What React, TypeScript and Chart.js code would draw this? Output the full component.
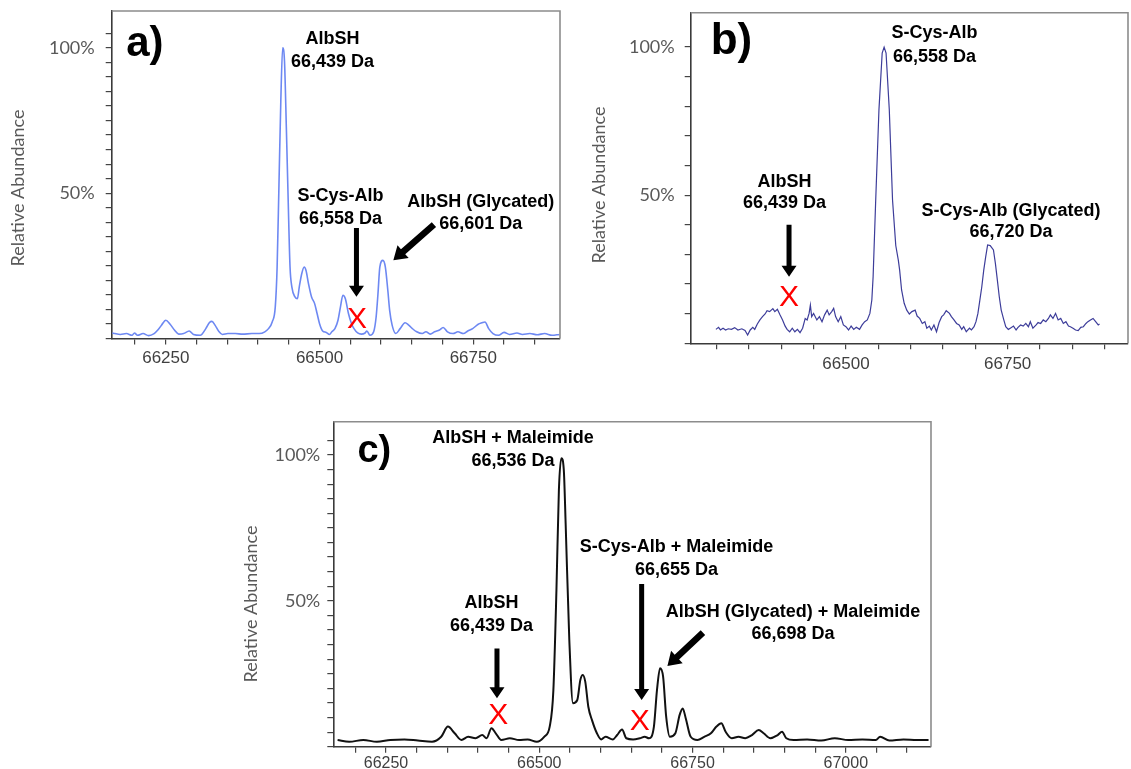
import React, { useEffect, useRef } from 'react';
import { Chart, registerables } from 'chart.js';

Chart.register(...registerables);

// ---------- Panel a : spectrum (mass in Da, relative abundance in %) ----------
const massA = [66163,66167,66176,66186,66195,66199,66204,66213,66222,66231,66237,66243,66250,66257,66264,66271,66279,66288,66295,66306,66315,66321,66325,66330,66336,66342,66351,66363,66375,66390,66402,66411,66417,66423,66428,66431,66434,66437,66440,66443,66446,66449,66452,66455,66460,66464,66467,66471,66475,66478,66482,66487,66492,66496,66500,66505,66511,66516,66520,66525,66530,66534,66538,66542,66547,66552,66556,66562,66568,66574,66577,66582,66588,66592,66595,66598,66603,66607,66611,66614,66618,66624,66631,66639,66645,66651,66658,66667,66673,66680,66687,66695,66701,66708,66717,66725,66734,66741,66749,66758,66764,66769,66775,66782,66791,66800,66809,66821,66830,66842,66854,66866,66878,66890];
const abundA = [1.9,1.7,1.4,1.7,1.1,1.9,1.1,1.7,1.0,1.7,2.9,4.6,6.3,4.9,2.9,1.5,1.7,2.6,1.4,1.1,3.4,5.5,5.9,4.6,2.5,1.4,1.7,1.7,1.5,1.7,1.7,2.3,3.4,5.7,10.9,24.6,53,81.7,100,95.4,72.6,47.4,24.6,17.7,14.3,13.7,17.7,22.3,24.6,23.4,18.9,14.3,12,8.6,5.1,2.6,2.1,1.4,2.3,3.4,6.3,10.9,14.9,13.7,8.6,5.1,3.4,1.9,1.5,1.9,2.6,1.1,2.3,7.4,15.4,24.6,26.9,24.6,16.6,9.7,4.6,1.7,3.4,5.4,4.6,3.4,2.3,1.7,2.3,1.5,2.3,2.9,3.8,2.3,1.7,2.3,1.7,2.6,3.4,4.9,5.4,5.7,3.4,1.7,1.1,2.1,1.4,1.9,1.4,1.7,1.3,1.7,1.1,1.4];

// ---------- Panel b ----------
const massB = [66299,66303,66306,66310,66314,66318,66323,66328,66333,66339,66344,66348,66352,66356,66359,66363,66367,66371,66375,66378,66382,66387,66390,66394,66398,66402,66406,66409,66413,66417,66421,66425,66429,66433,66437,66440,66443,66445,66447,66450,66455,66459,66463,66467,66471,66474,66478,66481,66484,66488,66492,66496,66500,66504,66508,66512,66516,66521,66525,66529,66533,66537,66540,66542,66546,66551,66556,66559,66562,66567,66572,66577,66581,66583,66586,66590,66594,66598,66602,66607,66610,66614,66618,66622,66625,66629,66632,66636,66640,66644,66648,66651,66655,66660,66663,66667,66671,66675,66679,66682,66686,66691,66694,66698,66701,66704,66707,66710,66713,66716,66719,66723,66728,66731,66734,66737,66740,66744,66747,66751,66754,66759,66763,66766,66770,66774,66778,66782,66785,66789,66794,66797,66801,66805,66809,66813,66816,66820,66824,66828,66832,66836,66840,66844,66847,66851,66855,66859,66863,66867,66871,66874,66878,66882,66886,66890,66892];
const abundB = [4.7,5.4,4.5,5.1,4.5,4.9,4.7,5.3,4.5,4.9,4.3,2.8,4.5,5.4,4.7,6.5,7.9,9.0,9.9,11.0,10.7,11.7,10.7,11.5,9.6,7.9,5.8,4.7,3.9,5.1,3.9,4.7,3.6,5.1,8.4,7.9,10.1,12.9,9.0,10.1,7.9,9.0,7.3,9.6,11.2,9.6,10.7,11.8,9.0,7.3,9.0,6.2,5.6,4.5,5.8,4.7,5.4,4.7,6.2,7.3,7.9,10.1,14.6,22.5,48.4,78.8,98,100,98,78.8,48.4,33,28,24.7,18,13.5,11.2,9.9,10.7,11.2,9.2,8.4,6.7,7.3,5.1,5.8,4.5,6.2,3.9,7.0,9.0,9.6,11.0,10.1,9.0,7.9,6.7,6.2,4.7,5.6,3.9,5.1,4.5,5.6,7.3,10.1,14.6,19.1,24.7,29.2,33.2,33.0,31.5,27,21.4,15.7,11.2,7.9,5.6,4.7,5.1,5.8,4.5,5.4,6.2,5.8,6.7,5.6,7.3,5.1,6.2,7.0,6.7,7.9,7.3,8.4,9.6,8.4,10.1,7.9,8.4,6.7,7.3,5.8,5.6,5.1,4.5,4.3,5.4,5.6,6.7,7.3,7.9,8.4,7.3,6.2,6.5];

// ---------- Panel c ----------
const massC = [66171,66190,66213,66235,66257,66280,66302,66325,66340,66351,66362,66373,66384,66396,66407,66414,66422,66429,66438,66452,66467,66481,66496,66508,66517,66523,66528,66532,66536,66540,66543,66549,66555,66562,66567,66571,66575,66580,66586,66594,66601,66608,66620,66627,66635,66642,66653,66664,66672,66679,66687,66692,66697,66702,66707,66713,66722,66729,66734,66739,66747,66758,66769,66780,66789,66797,66804,66814,66825,66836,66847,66858,66866,66877,66889,66896,66903,66915,66937,66960,66982,67004,67027,67049,67056,67071,67094,67116,67135];
const abundC = [2.3,1.7,2.3,1.7,2.3,2.5,2.1,1.7,3.4,6.9,4.6,2.3,3.4,2.9,4.0,2.9,6.3,4.6,2.3,2.9,2.3,2.5,1.7,3.4,6.9,19.4,53.7,88,98.9,94.9,76.6,36.6,14.9,16,22.9,24.6,22.3,13.7,9.1,4.6,2.5,3.4,2.5,4.0,5.9,2.9,2.5,2.9,3.4,2.9,6.9,19.4,26.9,24,10.3,3.4,4.6,10.9,13.1,9.7,3.4,2.3,3.4,4.6,6.9,8,5.1,2.9,3.4,2.9,4.0,5.7,4.6,2.9,4.0,5.1,2.9,2.3,2.5,2.1,2.9,2.3,2.5,2.3,3.4,2.1,2.5,2.3,2.3];

// ---------- Tick labels ----------
const yTickLabels = [50, 100];
const xTickLabelsA = [66250, 66500, 66750];
const xTickLabelsB = [66500, 66750];
const xTickLabelsC = [66250, 66500, 66750, 67000];
const xMinorStart = { a: 66200, b: 66300, c: 66200 };
const xMinorEnd = { a: 66850, b: 66900, c: 67100 };
const xMinorStep = 50;

// ---------- Annotations (data coordinates: Da, %) ----------
const textsA = [
  { x: 66521, y: 103, text: 'AlbSH' },
  { x: 66521, y: 95, text: '66,439 Da' },
  { x: 66534, y: 49, text: 'S-Cys-Alb' },
  { x: 66534, y: 41.2, text: '66,558 Da' },
  { x: 66762, y: 46.9, text: 'AlbSH (Glycated)' },
  { x: 66762, y: 39.3, text: '66,601 Da' },
];
const arrowsA = [
  { x1: 66560, y1: 38, x2: 66560, y2: 14.4 },
  { x1: 66686, y1: 39.2, x2: 66620, y2: 26.9 },
];
const crossesA = [{ x: 66561, y: 7.2 }];

const textsB = [
  { x: 66637, y: 104.7, text: 'S-Cys-Alb' },
  { x: 66637, y: 96.8, text: '66,558 Da' },
  { x: 66405, y: 54.6, text: 'AlbSH' },
  { x: 66405, y: 47.3, text: '66,439 Da' },
  { x: 66755, y: 44.8, text: 'S-Cys-Alb (Glycated)' },
  { x: 66755, y: 37.4, text: '66,720 Da' },
];
const arrowsB = [{ x1: 66412, y1: 40, x2: 66412, y2: 22.5 }];
const crossesB = [{ x: 66412, y: 16.3 }];

const textsC = [
  { x: 66457, y: 105.7, text: 'AlbSH + Maleimide' },
  { x: 66457, y: 97.9, text: '66,536 Da' },
  { x: 66724, y: 68.3, text: 'S-Cys-Alb + Maleimide' },
  { x: 66724, y: 60.6, text: '66,655 Da' },
  { x: 66422, y: 49.1, text: 'AlbSH' },
  { x: 66422, y: 41.4, text: '66,439 Da' },
  { x: 66914, y: 46.3, text: 'AlbSH (Glycated) + Maleimide' },
  { x: 66914, y: 38.6, text: '66,698 Da' },
];
const arrowsC = [
  { x1: 66431, y1: 33.7, x2: 66431, y2: 16.6 },
  { x1: 66667, y1: 55.8, x2: 66667, y2: 16 },
  { x1: 66767, y1: 39.1, x2: 66709, y2: 27.7 },
];
const crossesC = [{ x: 66433, y: 11.4 }, { x: 66664, y: 9.4 }];

const range = (s: number, e: number, st: number) => {
  const out: number[] = [];
  for (let v = s; v <= e + 1e-9; v += st) out.push(v);
  return out;
};

function drawArrow(ctx: CanvasRenderingContext2D, x1: number, y1: number, x2: number, y2: number, shaft: number, headW: number, headL: number) {
  const dx = x2 - x1, dy = y2 - y1;
  const len = Math.hypot(dx, dy);
  const ux = dx / len, uy = dy / len;
  const nx = -uy, ny = ux;
  const bx = x2 - ux * headL, by = y2 - uy * headL;
  ctx.beginPath();
  ctx.moveTo(x1 + nx * shaft / 2, y1 + ny * shaft / 2);
  ctx.lineTo(bx + nx * shaft / 2, by + ny * shaft / 2);
  ctx.lineTo(bx + nx * headW / 2, by + ny * headW / 2);
  ctx.lineTo(x2, y2);
  ctx.lineTo(bx - nx * headW / 2, by - ny * headW / 2);
  ctx.lineTo(bx - nx * shaft / 2, by - ny * shaft / 2);
  ctx.lineTo(x1 - nx * shaft / 2, y1 - ny * shaft / 2);
  ctx.closePath();
  ctx.fill();
}

const annotPlugin = {
  id: 'annot',
  afterDraw(chart: any, _args: any, opts: any) {
    const { ctx, chartArea: ca } = chart;
    const xs = chart.scales.x, ys = chart.scales.y;
    ctx.save();
    // top + right frame
    ctx.strokeStyle = '#8c8c8c';
    ctx.lineWidth = 1.6;
    ctx.beginPath();
    ctx.moveTo(ca.left, ca.top);
    ctx.lineTo(ca.right, ca.top);
    ctx.lineTo(ca.right, ca.bottom);
    ctx.stroke();

    // y axis title
    ctx.save();
    ctx.translate(opts.yTitle.x, opts.yTitle.y);
    ctx.rotate(-Math.PI / 2);
    ctx.fillStyle = '#595959';
    ctx.font = '18px Lato, "Open Sans", sans-serif';
    ctx.textAlign = 'center';
    ctx.textBaseline = 'middle';
    ctx.fillText('Relative Abundance', 0, 0);
    ctx.restore();

    // panel letter
    ctx.fillStyle = '#000';
    ctx.font = `bold ${opts.letterSize}px "Liberation Sans", Arial, sans-serif`;
    ctx.textAlign = 'center';
    ctx.textBaseline = 'middle';
    ctx.fillText(opts.letter.text, xs.getPixelForValue(opts.letter.x), ys.getPixelForValue(opts.letter.y));

    // labels
    ctx.font = 'bold 18px "Liberation Sans", Arial, sans-serif';
    for (const t of opts.texts) {
      ctx.fillText(t.text, xs.getPixelForValue(t.x), ys.getPixelForValue(t.y));
    }

    // arrows
    for (const a of opts.arrows) {
      const vertical = a.x1 === a.x2;
      drawArrow(ctx, xs.getPixelForValue(a.x1), ys.getPixelForValue(a.y1), xs.getPixelForValue(a.x2), ys.getPixelForValue(a.y2),
        vertical ? 5 : 6.5, vertical ? 15 : 17, vertical ? 11 : 13);
    }

    // red crosses
    ctx.fillStyle = '#ff0000';
    ctx.font = '30px "Liberation Sans", Arial, sans-serif';
    ctx.textBaseline = 'alphabetic';
    for (const c of opts.crosses) {
      ctx.fillText('X', xs.getPixelForValue(c.x), ys.getPixelForValue(c.y) + 30 * 0.716 / 2);
    }
    ctx.restore();
  },
};

type PanelCfg = {
  key: 'a' | 'b' | 'c';
  left: number; top: number; w: number; h: number;
  padTop: number; padRight: number; yAxisW: number; xAxisH: number;
  xMin: number; xMax: number; yMax: number; yStep: number;
  mass: number[]; abund: number[]; color: string; lineW: number; tension: number;
  xLabels: number[]; xFont: number; xPad: number; yPad: number;
  yTitle: { x: number; y: number };
  letter: { x: number; y: number; text: string }; letterSize: number;
  texts: any[]; arrows: any[]; crosses: any[];
};

const panels: PanelCfg[] = [
  {
    key: 'a', left: 0, top: 0, w: 580, h: 380,
    padTop: 11, padRight: 20, yAxisW: 111.7, xAxisH: 41.5,
    xMin: 66162, xMax: 66891, yMax: 112.7, yStep: 5,
    mass: massA, abund: abundA, color: '#6d88f2', lineW: 1.6, tension: 0.25,
    xLabels: xTickLabelsA, xFont: 17, xPad: 4, yPad: 11,
    yTitle: { x: 18, y: 188 },
    letter: { x: 66216, y: 101.2, text: 'a)' }, letterSize: 42,
    texts: textsA, arrows: arrowsA, crosses: crossesA,
  },
  {
    key: 'b', left: 580, top: 0, w: 551, h: 380,
    padTop: 12.7, padRight: 3, yAxisW: 110.7, xAxisH: 36.7,
    xMin: 66260, xMax: 66936, yMax: 111.6, yStep: 10,
    mass: massB, abund: abundB, color: '#3d3d9a', lineW: 1.2, tension: 0,
    xLabels: xTickLabelsB, xFont: 17, xPad: 5, yPad: 10,
    yTitle: { x: 19, y: 185 },
    letter: { x: 66323, y: 101.9, text: 'b)' }, letterSize: 44,
    texts: textsB, arrows: arrowsB, crosses: crossesB,
  },
  {
    key: 'c', left: 230, top: 400, w: 720, h: 369,
    padTop: 21.7, padRight: 19, yAxisW: 103.3, xAxisH: 22.3,
    xMin: 66164, xMax: 67139, yMax: 111.4, yStep: 5,
    mass: massC, abund: abundC, color: '#111111', lineW: 2, tension: 0.2,
    xLabels: xTickLabelsC, xFont: 16, xPad: 1, yPad: 7,
    yTitle: { x: 20.7, y: 204 },
    letter: { x: 66231, y: 101.1, text: 'c)' }, letterSize: 38,
    texts: textsC, arrows: arrowsC, crosses: crossesC,
  },
];

function Panel({ cfg }: { cfg: PanelCfg }) {
  const ref = useRef<HTMLCanvasElement | null>(null);
  useEffect(() => {
    if (!ref.current) return;
    const minorTicks = range(xMinorStart[cfg.key], xMinorEnd[cfg.key], xMinorStep);
    const chart = new Chart(ref.current, {
      type: 'line',
      data: {
        datasets: [{
          data: cfg.mass.map((m, i) => ({ x: m, y: cfg.abund[i] })),
          borderColor: cfg.color,
          borderWidth: cfg.lineW,
          pointRadius: 0,
          tension: cfg.tension,
          cubicInterpolationMode: cfg.tension > 0 ? 'monotone' : 'default',
          fill: false,
        }],
      },
      options: {
        animation: false,
        responsive: false,
        maintainAspectRatio: false,
        devicePixelRatio: 1,
        layout: { padding: { top: cfg.padTop, right: cfg.padRight, left: 0, bottom: 0 } },
        plugins: {
          legend: { display: false },
          tooltip: { enabled: false },
          annot: {
            yTitle: cfg.yTitle, letter: cfg.letter, letterSize: cfg.letterSize,
            texts: cfg.texts, arrows: cfg.arrows, crosses: cfg.crosses,
          },
        } as any,
        scales: {
          x: {
            type: 'linear',
            min: cfg.xMin,
            max: cfg.xMax,
            afterFit: (s: any) => { s.height = cfg.xAxisH; s.paddingLeft = 0; s.paddingRight = 0; },
            afterBuildTicks: (s: any) => { s.ticks = minorTicks.map((v) => ({ value: v })); },
            ticks: {
              autoSkip: false,
              maxRotation: 0,
              padding: cfg.xPad,
              color: '#404040',
              font: { family: '"Liberation Sans", Arial, sans-serif', size: cfg.xFont },
              callback: (v: any) => (cfg.xLabels.includes(Number(v)) ? String(v) : ''),
            },
            grid: { display: true, drawOnChartArea: false, drawTicks: true, tickLength: 6, color: '#444444', lineWidth: 1.2 },
            border: { display: true, color: '#3a3a3a', width: 1.6 },
          },
          y: {
            type: 'linear',
            min: 0,
            max: cfg.yMax,
            afterFit: (s: any) => { s.width = cfg.yAxisW; s.paddingTop = 0; s.paddingBottom = 0; },
            afterBuildTicks: (s: any) => {
              s.ticks = s.ticks.filter((t: any) => Math.abs(t.value / cfg.yStep - Math.round(t.value / cfg.yStep)) < 1e-6);
            },
            ticks: {
              stepSize: cfg.yStep,
              autoSkip: false,
              padding: cfg.yPad,
              color: '#595959',
              font: { family: 'Lato, "Open Sans", sans-serif', size: 18 },
              callback: (v: any) => (yTickLabels.includes(Number(v)) ? `${v}%` : ''),
            },
            grid: { display: true, drawOnChartArea: false, drawTicks: true, tickLength: 6, color: '#444444', lineWidth: 1.2 },
            border: { display: true, color: '#3a3a3a', width: 1.6 },
          },
        },
      },
      plugins: [annotPlugin as any],
    } as any);
    return () => chart.destroy();
  }, [cfg]);
  return (
    <canvas
      ref={ref}
      width={cfg.w}
      height={cfg.h}
      style={{ position: 'absolute', left: cfg.left, top: cfg.top, width: cfg.w, height: cfg.h }}
    />
  );
}

export default function App() {
  return (
    <div style={{ position: 'absolute', left: 0, top: 0, width: 1131, height: 769, background: '#ffffff', overflow: 'hidden' }}>
      {panels.map((p) => <Panel key={p.key} cfg={p} />)}
    </div>
  );
}
